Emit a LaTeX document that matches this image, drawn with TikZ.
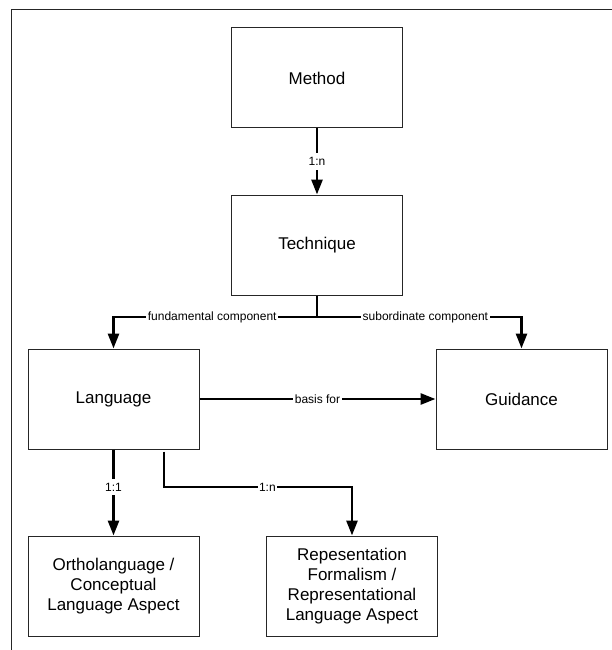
\documentclass[tikz,border=0pt]{standalone}
\usepackage{fontspec}
\setmainfont{Liberation Sans}
\usetikzlibrary{arrows.meta}
\begin{document}
\begin{tikzpicture}[x=1pt,y=-1pt,
  box/.style={draw=black!85, line width=1pt, rectangle, minimum width=171pt, minimum height=100pt,
    align=center, inner sep=2pt, font=\fontsize{17}{20}\selectfont},
  conn/.style={line width=2.7pt, black, -{Triangle[length=15pt,width=11pt]}},
  plain/.style={line width=2.7pt, black},
  lbl/.style={fill=white, inner xsep=1.5pt, inner ysep=4pt, font=\fontsize{12}{14}\selectfont},
  framecol/.style={draw=black!85, line width=1.6pt}]
\useasboundingbox (0,0) rectangle (612,650);
\draw[framecol] (11.5,650) -- (11.5,9.5) -- (612,9.5);

\node[box] (meth) at (317,78) {Method};
\node[box] (tech) at (317,245) {Technique};
\node[box] (lang) at (113.5,399) {Language};
\node[box] (guid) at (521.5,399) {Guidance};
\node[box] (orth) at (113.5,586) {Ortholanguage /\\Conceptual\\Language Aspect};
\node[box] (repr) at (352,586) {Repesentation\\Formalism /\\Representational\\Language Aspect};

\coordinate (fork) at (317,317);
\coordinate (rj) at (164,487);

\draw[conn] (meth) -- node[lbl]{1:n} (tech);
\draw[plain] (tech.south) -- (fork);
\draw[conn] (fork) -- node[lbl,pos=0.515]{fundamental component} (fork -| lang.north) -- (lang.north);
\draw[conn] (fork) -- node[lbl,pos=0.53]{subordinate component} (fork -| guid.north) -- (guid.north);
\draw[conn] (lang.east) -- node[lbl]{basis for} (guid.west);
\draw[conn] (lang.south) -- node[lbl,pos=0.44]{1:1} (orth.north);
\draw[conn] ([yshift=-2pt]lang.south -| rj) -- (rj) -- node[lbl,pos=0.55]{1:n} (rj -| repr.north) -- (repr.north);
\end{tikzpicture}
\end{document}
